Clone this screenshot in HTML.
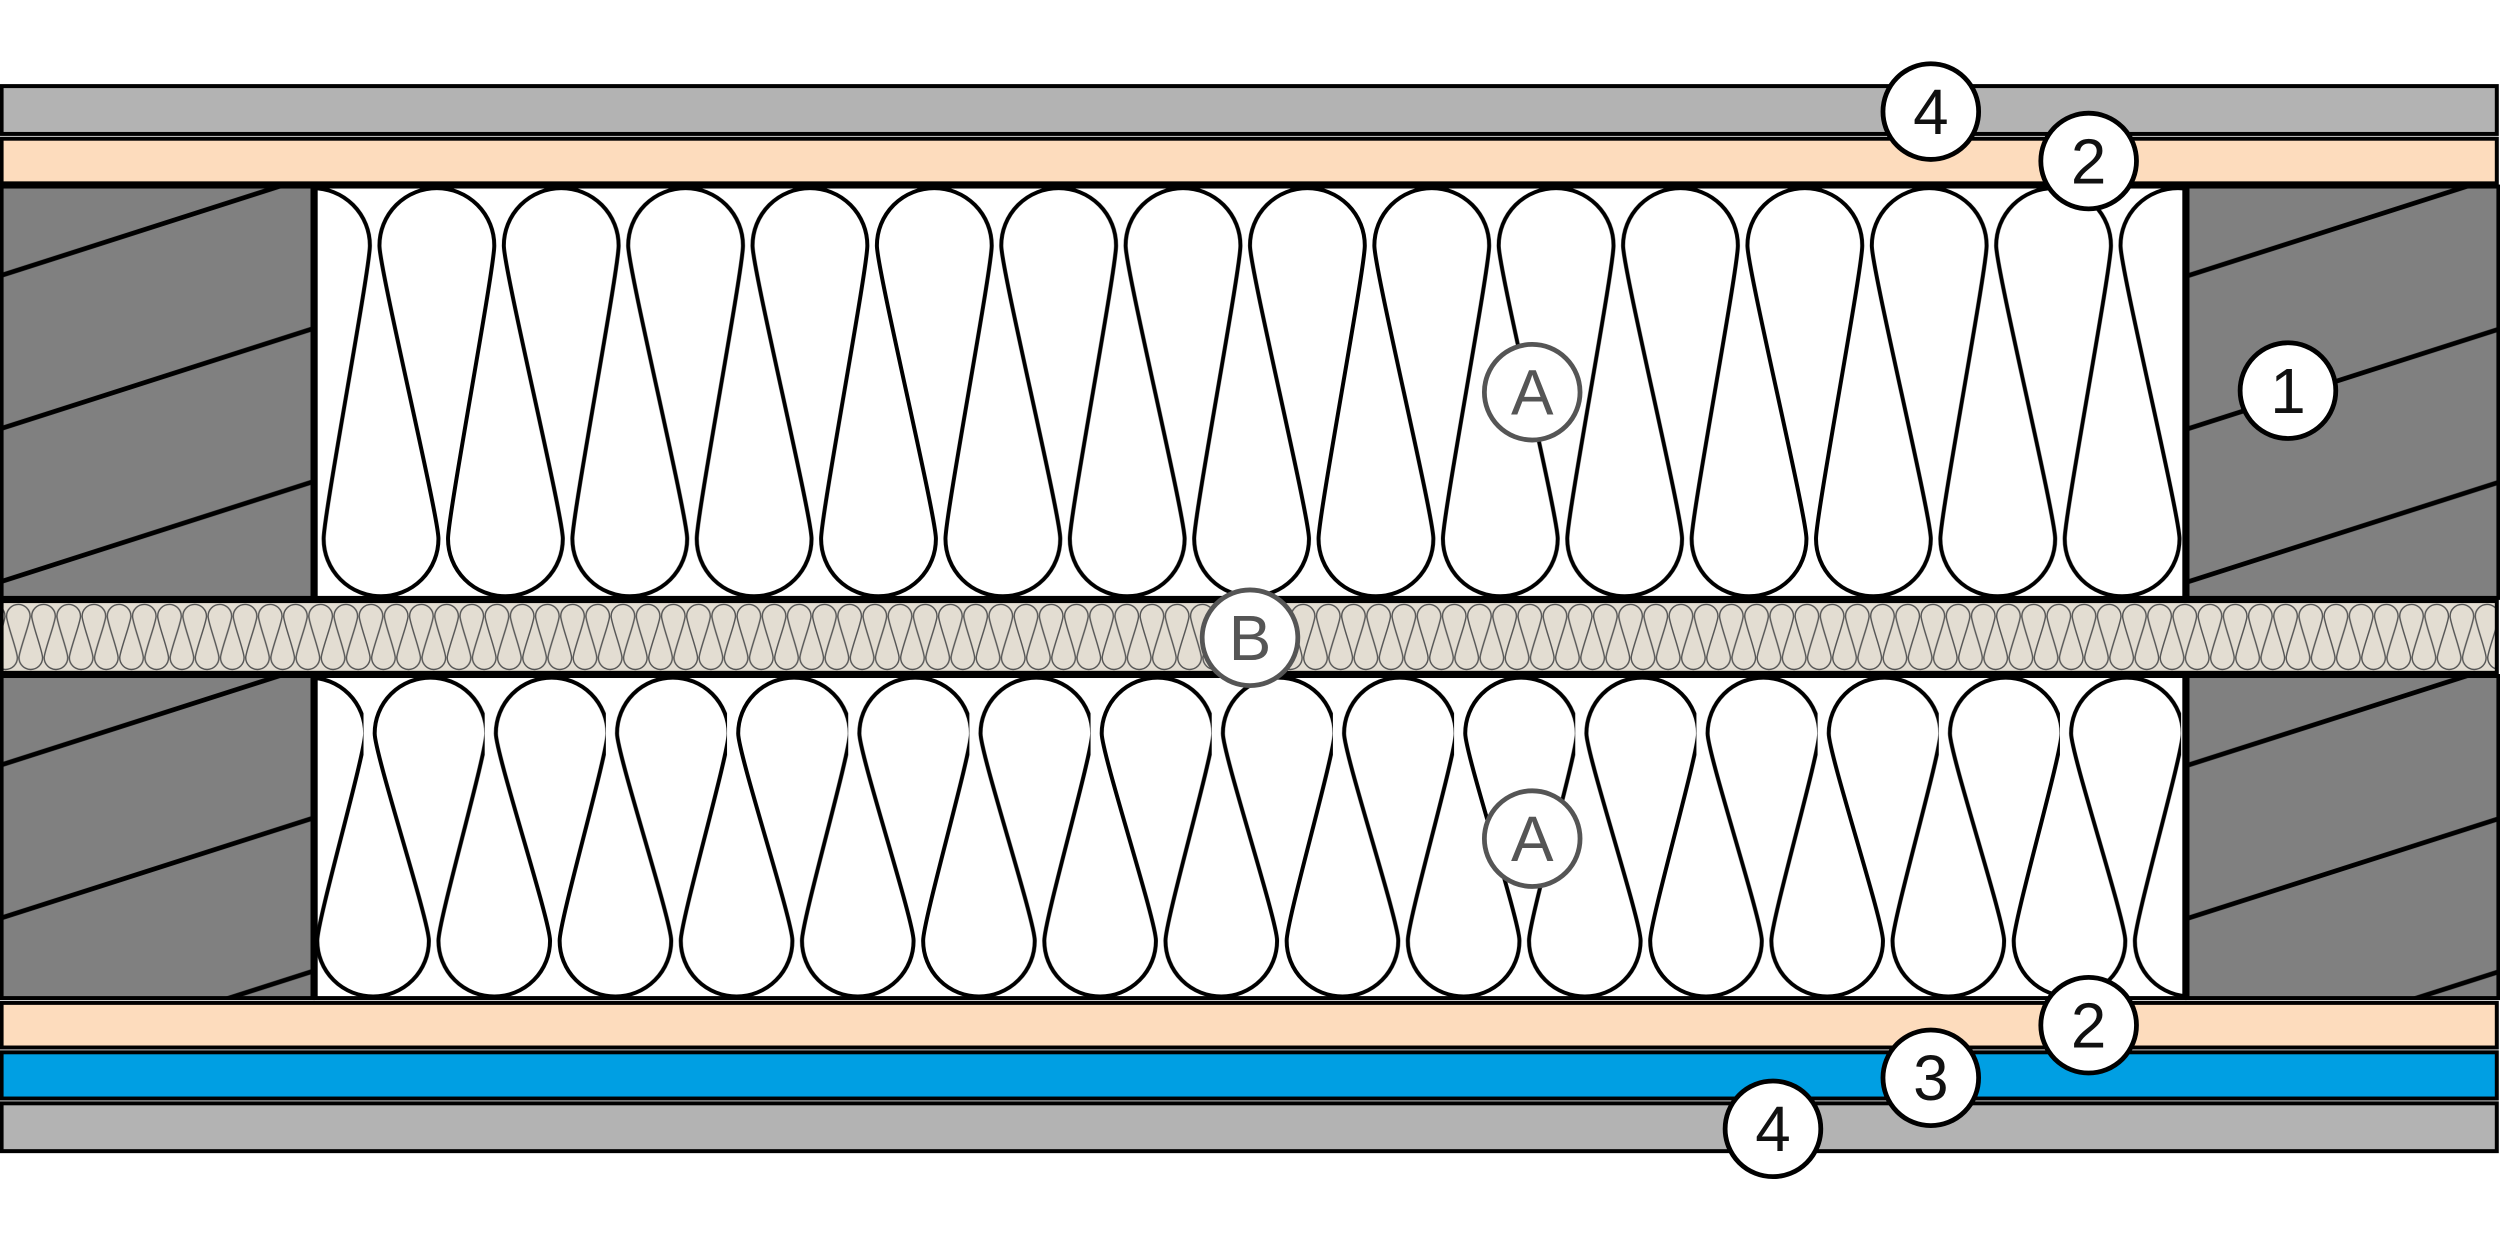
<!DOCTYPE html>
<html><head><meta charset="utf-8"><style>html,body{margin:0;padding:0;background:#fff}svg{display:block}</style></head>
<body>
<svg width="2500" height="1250" viewBox="0 0 1568 784" xmlns="http://www.w3.org/2000/svg">
<defs>
<pattern id="diagA" width="196" height="96" patternUnits="userSpaceOnUse" patternTransform="translate(0,77)">
<line x1="-10" y1="3.2" x2="206" y2="-66" stroke="#000" stroke-width="3"/>
<line x1="-10" y1="99.2" x2="206" y2="30" stroke="#000" stroke-width="3"/>
<line x1="-10" y1="195.2" x2="206" y2="126" stroke="#000" stroke-width="3"/>
</pattern>
<pattern id="diagB" width="196" height="96" patternUnits="userSpaceOnUse">
<line x1="-10" y1="3.2" x2="206" y2="-66" stroke="#000" stroke-width="3"/>
<line x1="-10" y1="99.2" x2="206" y2="30" stroke="#000" stroke-width="3"/>
<line x1="-10" y1="195.2" x2="206" y2="126" stroke="#000" stroke-width="3"/>
</pattern>
<pattern id="wavU" x="0" y="0" width="78" height="784" patternUnits="userSpaceOnUse">
<path fill="none" stroke="#000" stroke-width="2.5" d="M-31,338 a36,36 0 0 0 72,0 c0,-15 -37,-169 -37,-184 a36,36 0 0 1 72,0 c0,15 -29,169 -29,184 a36,36 0 0 0 72,0 c0,-15 -37,-169 -37,-184 a36,36 0 0 1 72,0 c0,15 -29,169 -29,184 a36,36 0 0 0 72,0 c0,-15 -37,-169 -37,-184 a36,36 0 0 1 72,0 c0,15 -29,169 -29,184"/>
</pattern>
<pattern id="wavL" x="0" y="0" width="76" height="784" patternUnits="userSpaceOnUse">
<path fill="none" stroke="#000" stroke-width="2.5" d="M-29,590 a35,35 0 0 0 70,0 c0,-13 -34,-117 -34,-130 a35,35 0 0 1 70,0 c0,13 -30,117 -30,130 a35,35 0 0 0 70,0 c0,-13 -34,-117 -34,-130 a35,35 0 0 1 70,0 c0,13 -30,117 -30,130 a35,35 0 0 0 70,0 c0,-13 -34,-117 -34,-130 a35,35 0 0 1 70,0 c0,13 -30,117 -30,130"/>
</pattern>
<pattern id="wavB" x="0" y="0" width="15.8" height="784" patternUnits="userSpaceOnUse">
<path fill="none" stroke="#555" stroke-width="0.9" d="M-19.7,412.5 a7.4,7.4 0 0 0 14.8,0 c0,-4 -6.8,-22 -6.8,-26 a7.4,7.4 0 0 1 14.8,0 c0,4 -7,22 -7,26 a7.4,7.4 0 0 0 14.8,0 c0,-4 -6.8,-22 -6.8,-26 a7.4,7.4 0 0 1 14.8,0 c0,4 -7,22 -7,26 a7.4,7.4 0 0 0 14.8,0 c0,-4 -6.8,-22 -6.8,-26 a7.4,7.4 0 0 1 14.8,0 c0,4 -7,22 -7,26"/>
</pattern>
</defs>
<g stroke="#000" stroke-width="2.5">
<rect x="1" y="54" width="1565" height="30" fill="#b3b3b3"/>
<rect x="1" y="87" width="1565" height="28" fill="#fddcbd"/>
<rect x="1" y="117" width="195" height="258" fill="#808080"/>
<rect x="1372" y="117" width="195" height="258" fill="#808080"/>
<rect x="1" y="424" width="195" height="202" fill="#808080"/>
<rect x="1372" y="424" width="195" height="202" fill="#808080"/>
</g>
<rect x="2" y="118" width="193" height="256" fill="url(#diagA)"/>
<rect x="1373" y="118" width="193" height="256" fill="url(#diagA)"/>
<rect x="2" y="425" width="193" height="200" fill="url(#diagB)"/>
<rect x="1373" y="425" width="193" height="200" fill="url(#diagB)"/>
<rect x="198" y="117" width="1172" height="258" fill="#fff"/>
<rect x="198" y="117" width="1172" height="258" fill="url(#wavU)"/>
<rect x="198" y="117" width="1172" height="258" fill="none" stroke="#000" stroke-width="2.5"/>
<rect x="198" y="424" width="1172" height="202" fill="#fff"/>
<rect x="198" y="424" width="1172" height="202" fill="url(#wavL)"/>
<rect x="198" y="424" width="1172" height="202" fill="none" stroke="#000" stroke-width="2.5"/>
<rect x="1" y="377" width="1565" height="45" fill="#e3ddd2"/>
<rect x="2" y="378" width="1563" height="43" fill="url(#wavB)"/>
<rect x="1" y="377" width="1565" height="45" fill="none" stroke="#000" stroke-width="2.5"/>
<g stroke="#000" stroke-width="2.5">
<rect x="1" y="629" width="1565" height="28" fill="#fddcbd"/>
<rect x="1" y="660" width="1565" height="29" fill="#009fe3"/>
<rect x="1" y="692" width="1565" height="30" fill="#b3b3b3"/>
</g>
<g font-family="Liberation Sans, sans-serif" font-size="40" text-anchor="middle">
<g fill="#fff" stroke="#000" stroke-width="3">
<circle cx="1211" cy="70" r="30"/><circle cx="1310" cy="101" r="30"/><circle cx="1435" cy="245" r="30"/>
<circle cx="1310" cy="643" r="30"/><circle cx="1211" cy="676" r="30"/><circle cx="1112" cy="708" r="30"/>
</g>
<g fill="#fff" stroke="#555" stroke-width="3">
<circle cx="961" cy="246" r="30"/><circle cx="784" cy="400" r="30"/><circle cx="961" cy="526" r="30"/>
</g>
<g fill="#111">
<text x="1211" y="84">4</text><text x="1310" y="115">2</text><text x="1435" y="259">1</text>
<text x="1310" y="657">2</text><text x="1211" y="690">3</text><text x="1112" y="722">4</text>
</g>
<g fill="#555">
<text x="961" y="260">A</text><text x="784" y="414">B</text><text x="961" y="540">A</text>
</g>
</g>
</svg>
</body></html>
